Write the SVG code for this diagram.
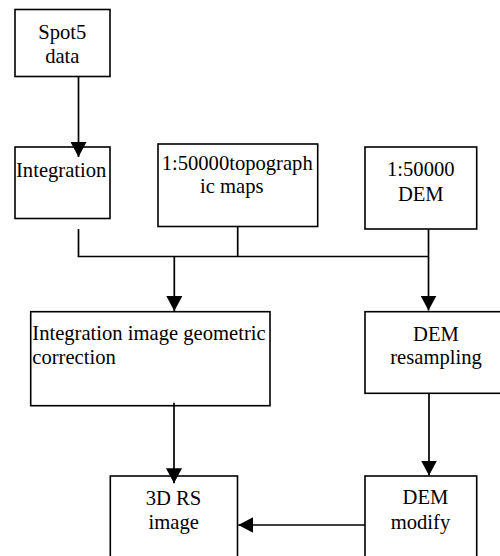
<svg xmlns="http://www.w3.org/2000/svg" width="500" height="556" viewBox="0 0 500 556">
<style>
.box{fill:#fff;stroke:#000;stroke-width:1.6}
.t{font-family:"Liberation Serif","Times New Roman",serif;font-size:20.6px;fill:#000}
.c{text-anchor:middle}
.ln{fill:none;stroke:#000;stroke-width:1.7}
.ar{marker-end:url(#ah)}
</style>
<defs>
<marker id="ah" markerUnits="userSpaceOnUse" markerWidth="16" markerHeight="16" viewBox="0 0 15 15" refX="14" refY="7.5" orient="auto">
<path d="M0,0 L14,7.5 L0,15 z" fill="#000"/>
</marker>
</defs>
<g id="spot5">
<rect class="box" x="15" y="9.5" width="95" height="67"/>
<text class="t c" x="62.3" y="39">Spot5</text>
<text class="t c" x="62.3" y="62.7">data</text>
</g>
<g id="integration">
<rect class="box" x="15" y="147" width="95" height="71.5"/>
<text class="t" x="16" y="176.7">Integration</text>
</g>
<g id="topo">
<rect class="box" x="158" y="144" width="159.7" height="82.5"/>
<text class="t c" x="237.2" y="170">1:50000topograph</text>
<text class="t c" x="231.8" y="193">ic maps</text>
</g>
<g id="dem">
<rect class="box" x="365" y="147" width="111.7" height="82"/>
<text class="t c" x="420.8" y="176">1:50000</text>
<text class="t c" x="420.8" y="200.7">DEM</text>
</g>
<g id="correction">
<rect class="box" x="30.7" y="311.7" width="239.3" height="94"/>
<text class="t" x="32.3" y="340">Integration image geometric</text>
<text class="t" x="32.3" y="364">correction</text>
</g>
<g id="resampling">
<rect class="box" x="365" y="311.7" width="145" height="81.6"/>
<text class="t c" x="436" y="340.7">DEM</text>
<text class="t c" x="436" y="364.3">resampling</text>
</g>
<g id="rs3d">
<rect class="box" x="110.3" y="476" width="127.2" height="100"/>
<text class="t c" x="173.5" y="505">3D RS</text>
<text class="t c" x="173.7" y="529.3">image</text>
</g>
<g id="modify">
<rect class="box" x="365" y="476" width="111.7" height="100"/>
<text class="t c" x="425.5" y="504">DEM</text>
<text class="t c" x="420.5" y="529.3">modify</text>
</g>
<g id="connectors">
<line class="ln ar" x1="78.5" y1="76.7" x2="78.5" y2="157"/>
<line class="ln" x1="78.5" y1="229" x2="78.5" y2="256.5"/>
<line class="ln" x1="237.7" y1="226.5" x2="237.7" y2="256.5"/>
<line class="ln" x1="77.7" y1="256.5" x2="428.5" y2="256.5"/>
<line class="ln ar" x1="428.5" y1="229" x2="428.5" y2="310.5"/>
<line class="ln ar" x1="174.3" y1="256.5" x2="174.3" y2="311"/>
<line class="ln ar" x1="174" y1="402.7" x2="174" y2="483.3"/>
<line class="ln ar" x1="429" y1="393.3" x2="429" y2="475.5"/>
<line class="ln ar" x1="365" y1="525" x2="238.3" y2="525"/>
</g>
</svg>
